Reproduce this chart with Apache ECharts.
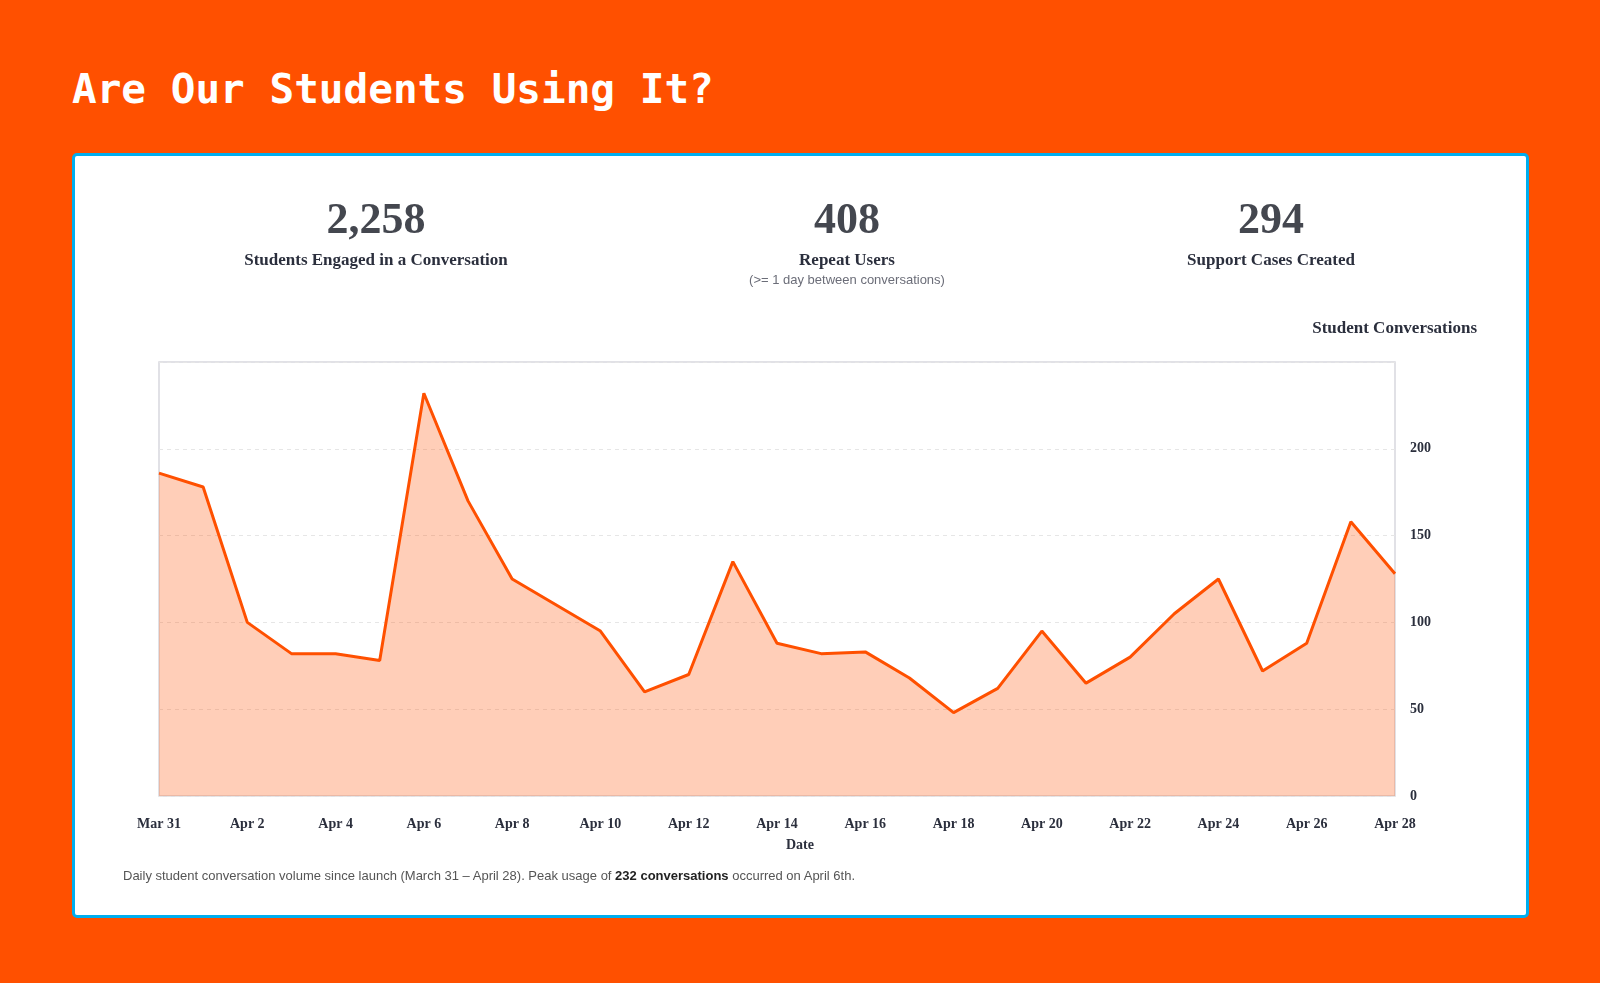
<!DOCTYPE html>
<html>
<head>
<meta charset="utf-8">
<title>Are Our Students Using It?</title>
<script src="https://cdn.jsdelivr.net/npm/echarts@6/dist/echarts.min.js"></script>
<style>
    html, body { margin: 0; padding: 0; }
    body {
        width: 1600px; height: 983px;
        background: #ff5000;
        position: relative; overflow: hidden;
    }
    .page-title {
        position: absolute; left: 72px; top: 69px; margin: 0;
        font-family: "DejaVu Sans Mono", monospace;
        font-weight: bold; font-size: 41px; line-height: 41px;
        color: #fff;
    }
    .card {
        position: absolute; left: 72px; top: 153px;
        width: 1457px; height: 765px;
        box-sizing: border-box;
        background: #fff;
        border: 3px solid #00aeef;
        border-radius: 5px;
    }
    .stat { position: absolute; width: 440px; margin-left: -220px; text-align: center; z-index: 2; }
    .stat-value {
        position: absolute; left: 0; right: 0; top: 197px;
        font-family: "Liberation Serif", serif; font-weight: bold;
        font-size: 44px; line-height: 44px; color: #44474f;
    }
    .stat-label {
        position: absolute; left: 0; right: 0; top: 251px;
        font-family: "Liberation Serif", serif; font-weight: bold;
        font-size: 17px; line-height: 17px; color: #2b2f3d;
    }
    .stat-note {
        position: absolute; left: 0; right: 0; top: 273px;
        font-family: "Liberation Sans", sans-serif;
        font-size: 13px; line-height: 13px; color: #6b6d78;
    }
    #chart { position: absolute; left: 0; top: 0; width: 1600px; height: 983px; z-index: 1; }
    .caption {
        position: absolute; left: 123px; top: 869px; z-index: 2;
        font-family: "Liberation Sans", sans-serif;
        font-size: 13px; line-height: 13px; color: #555;
    }
    .caption b { color: #222; }
</style>
</head>
<body>
<h1 class="page-title">Are Our Students Using It?</h1>
<div class="card"></div>
<div id="stats"></div>
<div id="chart"></div>
<div class="caption">Daily student conversation volume since launch (March 31 – April 28). Peak usage of <b>232 conversations</b> occurred on April 6th.</div>

<script>
// stats row
var statValues = ['2,258', '408', '294'];
var statLabels = ['Students Engaged in a Conversation', 'Repeat Users', 'Support Cases Created'];
var statNotes = ['', '(>= 1 day between conversations)', ''];
var statCenters = [376, 847, 1271];

// daily conversations
var dates = ['Mar 31', 'Apr 1', 'Apr 2', 'Apr 3', 'Apr 4', 'Apr 5', 'Apr 6', 'Apr 7', 'Apr 8', 'Apr 9',
    'Apr 10', 'Apr 11', 'Apr 12', 'Apr 13', 'Apr 14', 'Apr 15', 'Apr 16', 'Apr 17', 'Apr 18', 'Apr 19',
    'Apr 20', 'Apr 21', 'Apr 22', 'Apr 23', 'Apr 24', 'Apr 25', 'Apr 26', 'Apr 27', 'Apr 28'];
var conversations = [186, 178, 100, 82, 82, 78, 232, 170, 125, 110,
    95, 60, 70, 135, 88, 82, 83, 68, 48, 62,
    95, 65, 80, 105, 125, 72, 88, 158, 128];

var serif = '"Liberation Serif", serif';

var statsHtml = '';
for (var i = 0; i < statValues.length; i++) {
    statsHtml += '<div class="stat" style="left:' + statCenters[i] + 'px">'
        + '<div class="stat-value">' + statValues[i] + '</div>'
        + '<div class="stat-label">' + statLabels[i] + '</div>'
        + (statNotes[i] ? '<div class="stat-note">' + statNotes[i] + '</div>' : '')
        + '</div>';
}
document.getElementById('stats').innerHTML = statsHtml;

var chart = echarts.init(document.getElementById('chart'));

var option = {
    animation: false,
    title: {
        text: 'Student Conversations',
        right: 118,
        top: 315,
        textStyle: { fontFamily: serif, fontWeight: 'bold', fontSize: 17, color: '#2b2f3d' }
    },
    grid: {
        left: 159, top: 362, width: 1236, height: 434,
        show: true,
        borderColor: '#d8d8de',
        borderWidth: 1.5
    },
    xAxis: {
        type: 'category',
        data: dates,
        boundaryGap: false,
        name: 'Date',
        nameLocation: 'middle',
        nameGap: 42,
        nameTextStyle: { fontFamily: serif, fontWeight: 'bold', fontSize: 14, color: '#2b2f3d', padding: [0, 0, 0, 46] },
        axisLine: { show: false },
        axisTick: { show: false },
        splitLine: { show: false },
        axisLabel: { interval: 1, margin: 21, fontFamily: serif, fontWeight: 'bold', fontSize: 14, color: '#2b2f3d' }
    },
    yAxis: {
        type: 'value',
        position: 'right',
        min: 0,
        max: 250,
        interval: 50,
        axisLine: { show: false },
        axisTick: { show: false },
        axisLabel: { margin: 15, showMaxLabel: false, fontFamily: serif, fontWeight: 'bold', fontSize: 14, color: '#2b2f3d' },
        splitLine: { lineStyle: { type: [4, 4], color: '#e6e6e6', width: 1 } }
    },
    series: [
        {
            name: 'Student Conversations',
            type: 'line',
            data: conversations,
            symbol: 'none',
            lineStyle: { color: '#ff5000', width: 3 },
            areaStyle: { color: '#ff5000', opacity: 0.28 }
        }
    ]
};

chart.setOption(option);
</script>
</body>
</html>
